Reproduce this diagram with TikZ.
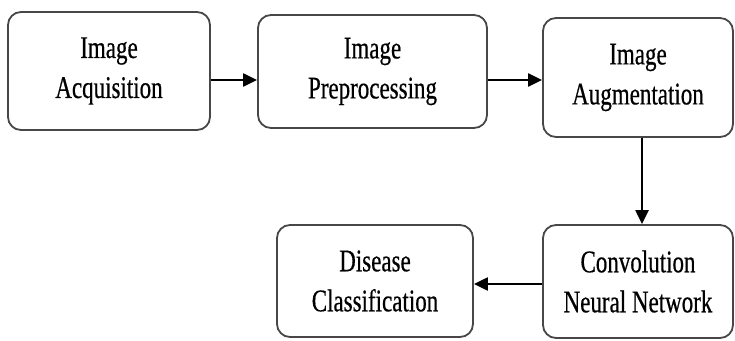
\documentclass[tikz,border=0pt]{standalone}
\usepackage{fontspec}
\setmainfont{Liberation Serif}[FakeStretch=0.73, FakeBold=0.5]
\usetikzlibrary{arrows.meta}
\tikzset{
  x=1pt, y=-1pt,
  stagebox/.style={draw=black!72, line width=1.8pt, rounded corners=13pt,
    fill=white, align=center, inner sep=0pt,
    font=\fontsize{31.5}{40}\selectfont},
  flow/.style={line width=2.2pt, -{Triangle[length=14pt,width=13pt]}}
}
\begin{document}
\begin{tikzpicture}
  \useasboundingbox (0,0) rectangle (735,340);
  % pipeline stages
  \node[stagebox, minimum width=202pt, minimum height=118pt] (acq) at (109,71)
    {Image\\Acquisition};
  \node[stagebox, minimum width=229pt, minimum height=113pt] (pre) at (372.5,71.5)
    {Image\\Preprocessing};
  \node[stagebox, minimum width=190pt, minimum height=119pt] (aug) at (638,77.5)
    {Image\\Augmentation};
  \node[stagebox, minimum width=190pt, minimum height=113pt] (cnn) at (638,281.5)
    {Convolution\\Neural Network};
  \node[stagebox, minimum width=196pt, minimum height=112pt] (cls) at (375,281)
    {Disease\\Classification};
  % connectors
  \draw[flow] (acq.east |- 0,80) -- (pre.west |- 0,80);
  \draw[flow] (pre.east |- 0,80) -- (aug.west |- 0,80);
  \draw[flow] (aug.south -| 642,0) -- (cnn.north -| 642,0);
  \draw[flow] (cnn.west |- 0,284) -- (cls.east |- 0,284);
\end{tikzpicture}
\end{document}
